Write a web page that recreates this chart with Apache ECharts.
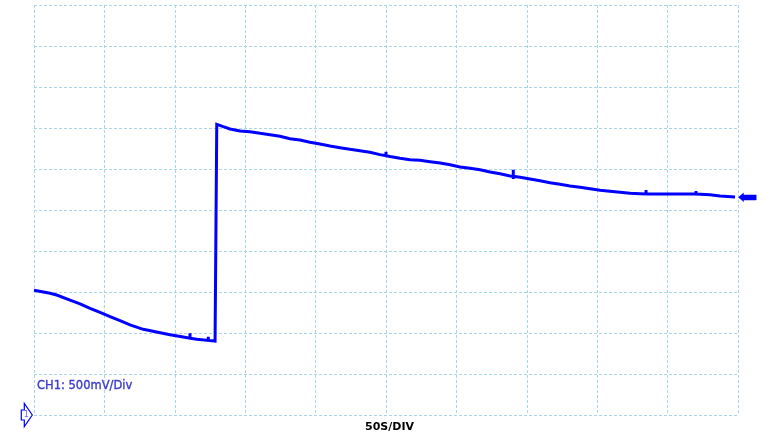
<!DOCTYPE html>
<html>
<head>
<meta charset="utf-8">
<script src="https://cdn.jsdelivr.net/npm/echarts@6/dist/echarts.min.js"></script>
<style>
html,body{margin:0;padding:0;background:#fff;}
#chart{width:769px;height:446px;}
</style>
</head>
<body>
<div id="chart"></div>
<script>
// Time (s) and voltage (V)
var timeS = [0, 11.4, 16.1, 25.6, 32.7, 39.8, 46.9, 54.0, 61.1, 68.2, 77.6, 87.1, 96.6, 106.0,
  110.8, 110.8, 110.8, 115.6, 123.8, 123.8, 123.8, 128.6, 129.8,
  129.8, 134.4, 139.2, 146.3, 153.4, 160.5, 167.6, 174.7, 181.8, 188.9, 196.0, 203.1, 210.2,
  217.3, 224.4, 231.5, 238.6, 245.7, 250.0, 250.0, 250.0, 252.8, 259.9, 267.0, 274.1, 281.3,
  288.4, 295.5, 302.6, 309.7, 316.8, 323.9, 331.0, 338.1, 340.4, 340.4, 340.4, 340.4, 345.2,
  352.3, 359.4, 366.5, 373.6, 380.7, 387.8, 394.9, 402.0, 409.1, 416.2, 423.3, 430.4,
  434.7, 434.7, 434.7, 451.7, 470.2, 470.2, 470.2, 480.1, 487.2, 497.9];
var voltV = [1.521, 1.484, 1.463, 1.402, 1.354, 1.301, 1.252, 1.199, 1.150, 1.098, 1.045, 1.012, 0.979, 0.951,
  0.937, 0.996, 0.937, 0.923, 0.909, 0.955, 0.909, 0.902, 0.900,
  3.545, 3.516, 3.488, 3.463, 3.455, 3.435, 3.418, 3.399, 3.370, 3.354, 3.326, 3.305, 3.280,
  3.260, 3.240, 3.223, 3.204, 3.175, 3.162, 3.211, 3.162, 3.152, 3.130, 3.113, 3.106, 3.089,
  3.073, 3.052, 3.024, 3.008, 2.991, 2.963, 2.943, 2.915, 2.911, 2.991, 2.878, 2.911, 2.899,
  2.878, 2.857, 2.833, 2.813, 2.793, 2.777, 2.760, 2.740, 2.728, 2.716, 2.704, 2.699,
  2.695, 2.744, 2.695, 2.695, 2.695, 2.732, 2.695, 2.687, 2.671, 2.659];
var timeRange = [0, 500];       // 10 div x 50 s/div
var voltRange = [0, 5];         // 10 div x 500 mV/div
var timePerDiv = 50;
var voltPerDiv = 0.5;
var groundLevel = 0;
var triggerLevel = 2.655;
var channelLabel = 'CH1: 500mV/Div';
var timebaseLabel = '50S/DIV';

var points = timeS.map(function (t, i) { return [t, voltV[i]]; });

var chart = echarts.init(document.getElementById('chart'), null, {renderer: 'canvas'});
var gridLine = {show: true, lineStyle: {color: '#a9d6e6', width: 1, type: [3, 2]}};
chart.setOption({
  animation: false,
  backgroundColor: '#ffffff',
  grid: {left: 34, right: 31, top: 5, bottom: 31, containLabel: false},
  xAxis: {
    type: 'value', min: timeRange[0], max: timeRange[1], interval: timePerDiv,
    axisLine: {show: false}, axisTick: {show: false}, axisLabel: {show: false},
    splitLine: gridLine,
    name: timebaseLabel, nameLocation: 'middle', nameGap: 12,
    nameTextStyle: {fontFamily: 'DejaVu Sans', fontWeight: 'bold', fontSize: 11, color: '#000', padding: [0, 0, 0, 7], verticalAlign: 'middle'}
  },
  yAxis: {
    type: 'value', min: voltRange[0], max: voltRange[1], interval: voltPerDiv,
    axisLine: {show: false}, axisTick: {show: false}, axisLabel: {show: false},
    splitLine: gridLine
  },
  series: [{
    type: 'line', data: points, showSymbol: false, symbol: 'none',
    lineStyle: {color: '#0000ff', width: 3, join: 'miter'},
    clip: false
  }]
});

var g0 = chart.convertToPixel({gridIndex: 0}, [timeRange[0], groundLevel]);
var gT = chart.convertToPixel({gridIndex: 0}, [timeRange[1], triggerLevel]);
var gL = chart.convertToPixel({gridIndex: 0}, [timeRange[0], voltRange[0] + voltPerDiv * 0.7]);
var tipX = g0[0] - 1.7, tipY = g0[1];
var rx = gT[0] + 0.5, ry = gT[1];
chart.setOption({
  graphic: [
    {
      type: 'polygon',
      shape: {points: [[tipX, tipY], [tipX - 8, tipY - 11.5], [tipX - 8, tipY - 5], [tipX - 11, tipY - 5],
        [tipX - 11, tipY + 5], [tipX - 8, tipY + 5], [tipX - 8, tipY + 11.5]]},
      style: {fill: '#ffffff', stroke: '#0000ff', lineWidth: 1.2}
    },
    {
      type: 'text', x: tipX - 6, y: tipY,
      style: {text: '1', font: '8px "DejaVu Sans"', fill: '#6a6ad8', align: 'center', verticalAlign: 'middle'}
    },
    {
      type: 'polygon',
      shape: {points: [[rx, ry], [rx + 5, ry - 4.2], [rx + 5, ry - 2.3], [rx + 17.7, ry - 2.3],
        [rx + 17.7, ry + 2.7], [rx + 5, ry + 2.7], [rx + 5, ry + 4.3]]},
      style: {fill: '#0000ff', stroke: '#0000ff', lineWidth: 0.5}
    },
    {
      type: 'text', x: g0[0] + 3, y: gL[1],
      style: {text: channelLabel, font: '11.5px "DejaVu Sans"', fill: '#3a3acc', stroke: '#3a3acc', lineWidth: 0.35, align: 'left', verticalAlign: 'middle'}
    }
  ]
});
</script>
</body>
</html>
